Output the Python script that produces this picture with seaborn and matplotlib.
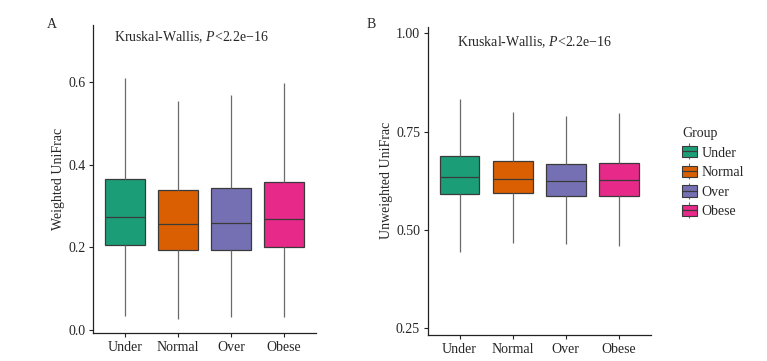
import matplotlib
matplotlib.use("Agg")
import matplotlib.pyplot as plt
import pandas as pd
import seaborn as sns
from matplotlib.lines import Line2D
from matplotlib.patches import Patch
from matplotlib.legend_handler import HandlerTuple

groups = ["Under", "Normal", "Over", "Obese"]
colors = ["#1B9E77", "#D95F02", "#7570B3", "#E7298A"]

# box summaries per group: lower whisker, q1, median, q3, upper whisker
weighted_low = [0.034, 0.026, 0.031, 0.031]
weighted_q1 = [0.207, 0.195, 0.195, 0.202]
weighted_med = [0.274, 0.256, 0.259, 0.270]
weighted_q3 = [0.367, 0.340, 0.345, 0.359]
weighted_high = [0.611, 0.556, 0.569, 0.598]

unweighted_low = [0.443, 0.468, 0.464, 0.460]
unweighted_q1 = [0.591, 0.593, 0.586, 0.586]
unweighted_med = [0.636, 0.631, 0.625, 0.626]
unweighted_q3 = [0.688, 0.675, 0.668, 0.670]
unweighted_high = [0.833, 0.799, 0.790, 0.797]

weighted_ticks = [0.0, 0.2, 0.4, 0.6]
weighted_ticklabels = ["0.0", "0.2", "0.4", "0.6"]
unweighted_ticks = [0.25, 0.50, 0.75, 1.00]
unweighted_ticklabels = ["0.25", "0.50", "0.75", "1.00"]

test_label = r"Kruskal-Wallis, $\it{P}$<2.2e$-$16"


def long_frame(*cols) -> pd.DataFrame:
    rows = []
    for i, g in enumerate(groups):
        for col in cols:
            rows.append({"Group": g, "value": col[i]})
    return pd.DataFrame(rows)


def draw_panel(ax, df, ylabel, ylim, ticks, ticklabels, labelpad):
    sns.boxplot(
        data=df, x="Group", y="value", hue="Group",
        order=groups, hue_order=groups, palette=colors, saturation=1,
        width=0.75, whis=(0, 100), showcaps=False, showfliers=False,
        linecolor="#3a3a3a", linewidth=0.9, legend=False, ax=ax,
    )
    for cont in ax.containers:
        for w in cont.whiskers:
            w.set_color("#6a6a6a")
    ax.set_xlim(-0.6, 3.6)
    ax.set_ylim(*ylim)
    ax.set_yticks(ticks)
    ax.set_yticklabels(ticklabels)
    ax.set_xlabel("")
    ax.set_ylabel(ylabel, labelpad=labelpad)
    sns.despine(ax=ax)
    for side in ["left", "bottom"]:
        ax.spines[side].set_color("#222222")
        ax.spines[side].set_linewidth(0.9)
    ax.tick_params(axis="both", length=3, width=0.8, color="#222222", labelsize=10, pad=2.5)


sns.set_theme(style="ticks")
plt.rcParams["font.family"] = ["Liberation Serif", "DejaVu Serif"]
plt.rcParams["mathtext.fontset"] = "custom"
plt.rcParams["mathtext.rm"] = "Liberation Serif"
plt.rcParams["mathtext.it"] = "Liberation Serif:italic"
plt.rcParams["font.size"] = 10
plt.rcParams["axes.labelsize"] = 10

fig = plt.figure(figsize=(7.67, 3.61), dpi=100)
ax_a = fig.add_axes([0.1213, 0.0776, 0.2907, 0.853])
ax_b = fig.add_axes([0.5576, 0.0720, 0.2907, 0.854])

df_w = long_frame(weighted_low, weighted_q1, weighted_med, weighted_q3, weighted_high)
df_u = long_frame(unweighted_low, unweighted_q1, unweighted_med, unweighted_q3, unweighted_high)

draw_panel(ax_a, df_w, "Weighted UniFrac", (-0.0073, 0.739), weighted_ticks, weighted_ticklabels, 2.5)
draw_panel(ax_b, df_u, "Unweighted UniFrac", (0.233, 1.017), unweighted_ticks, unweighted_ticklabels, 1.8)

ax_a.text(0.094, 0.961, test_label, transform=ax_a.transAxes, ha="left", va="center", fontsize=10)
ax_b.text(0.13, 0.951, test_label, transform=ax_b.transAxes, ha="left", va="center", fontsize=10)

fig.text(52 / 767, 1 - 25 / 361, "A", ha="center", va="center", fontsize=10)
fig.text(371 / 767, 1 - 25 / 361, "B", ha="center", va="center", fontsize=10)

handles = []
for c in colors:
    whisk = Line2D([], [], marker="|", markersize=12, markeredgewidth=0.8, linestyle="none", color="#6a6a6a")
    box = Patch(facecolor=c, edgecolor="#3a3a3a", linewidth=0.8)
    med = Line2D([], [], color="#3a3a3a", linewidth=0.9)
    handles.append((whisk, box, med))

fig.legend(
    handles, groups, title="Group", loc="upper left",
    bbox_to_anchor=(682 / 767, 1 - 127 / 361), frameon=False,
    handler_map={tuple: HandlerTuple(ndivide=1, pad=0)},
    handlelength=1.05, handleheight=0.85, handletextpad=0.35, labelspacing=0.45,
    borderaxespad=0, borderpad=0, fontsize=10, title_fontsize=10, alignment="left",
)

fig.savefig("out.png", dpi=100)
